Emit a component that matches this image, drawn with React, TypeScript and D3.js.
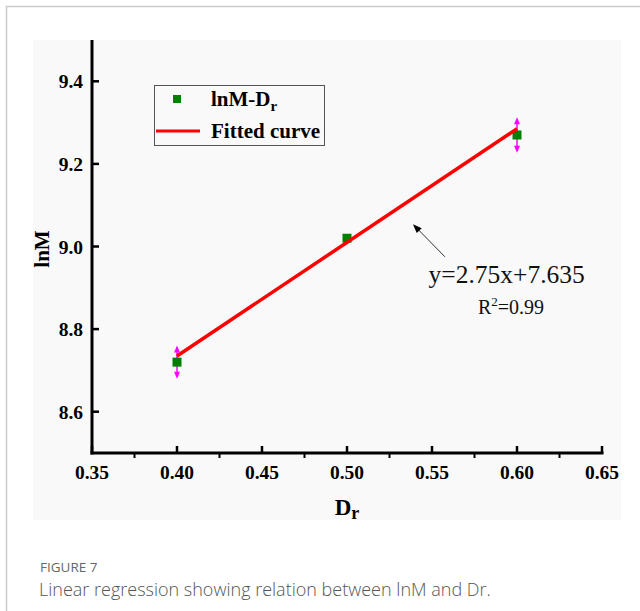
import * as d3 from "d3";
import React, { useEffect, useRef } from "react";

// measured points (Dr, lnM) and their error half-widths
const drValues = [0.4, 0.5, 0.6];
const lnmValues = [8.72, 9.02, 9.27];
const errValues = [0.04, 0, 0.043];

// fitted line y = slope * x + intercept
const slope = 2.75;
const intercept = 7.635;

const xTicks = [0.35, 0.4, 0.45, 0.5, 0.55, 0.6, 0.65];
const xMinor = [0.375, 0.425, 0.475, 0.525, 0.575, 0.625];
const yTicks = [8.6, 8.8, 9.0, 9.2, 9.4];

const serif = "'Liberation Serif', 'Times New Roman', serif";
const sans = "'Open Sans', 'Noto Sans', sans-serif";

export default function App() {
  const ref = useRef<SVGSVGElement | null>(null);

  useEffect(() => {
    const svg = d3.select(ref.current);
    svg.selectAll("*").remove();

    const x = d3.scaleLinear().domain([0.35, 0.65]).range([92, 602]);
    const y = d3.scaleLinear().domain([8.5, 9.5]).range([453, 40]);

    // page frame
    svg.append("path")
      .attr("d", "M6.5,611 V6.5 H640")
      .attr("fill", "none")
      .attr("stroke", "#cccccc")
      .attr("stroke-width", 1.5);

    // chart background
    svg.append("rect")
      .attr("x", 33).attr("y", 40)
      .attr("width", 588).attr("height", 480)
      .attr("fill", "#f9f9f9");

    const g = svg.append("g");

    const fit = d3.line<number>()
      .x(d => x(d))
      .y(d => y(slope * d + intercept));

    // error bars with arrow heads
    drValues.forEach((d, i) => {
      const e = errValues[i];
      if (!e) return;
      const cx = x(d);
      const top = y(lnmValues[i] + e);
      const bot = y(lnmValues[i] - e);
      g.append("line")
        .attr("x1", cx).attr("x2", cx)
        .attr("y1", top + 3).attr("y2", bot - 3)
        .attr("stroke", "#ff00ff").attr("stroke-width", 1.5);
      g.append("path")
        .attr("d", `M${cx},${top} L${cx - 3},${top + 7} L${cx + 3},${top + 7} Z`)
        .attr("fill", "#ff00ff");
      g.append("path")
        .attr("d", `M${cx},${bot} L${cx - 3},${bot - 7} L${cx + 3},${bot - 7} Z`)
        .attr("fill", "#ff00ff");
    });

    // points
    g.selectAll("rect.pt")
      .data(drValues)
      .enter()
      .append("rect")
      .attr("class", "pt")
      .attr("x", d => x(d) - 4.5)
      .attr("y", (d, i) => y(lnmValues[i]) - 4.5)
      .attr("width", 9).attr("height", 9)
      .attr("fill", "#008000");

    // fitted line, drawn over the markers
    g.append("path")
      .datum([drValues[0], drValues[drValues.length - 1]])
      .attr("fill", "none")
      .attr("stroke", "#ff0000")
      .attr("stroke-width", 3.5)
      .attr("d", fit);

    // axes
    const axisColor = "#000";
    g.append("line")
      .attr("x1", x(0.35)).attr("x2", x(0.35))
      .attr("y1", y(9.5)).attr("y2", y(8.5) + 1.5)
      .attr("stroke", axisColor).attr("stroke-width", 3);
    g.append("line")
      .attr("x1", x(0.35) - 1.5).attr("x2", x(0.65) + 1.5)
      .attr("y1", y(8.5)).attr("y2", y(8.5))
      .attr("stroke", axisColor).attr("stroke-width", 3);

    xTicks.forEach(t => {
      g.append("line")
        .attr("x1", x(t)).attr("x2", x(t))
        .attr("y1", y(8.5)).attr("y2", y(8.5) - 7)
        .attr("stroke", axisColor).attr("stroke-width", 2.5);
      g.append("text")
        .attr("x", x(t)).attr("y", 479)
        .attr("text-anchor", "middle")
        .style("font-family", serif)
        .style("font-weight", "bold")
        .style("font-size", "19.5px")
        .text(t.toFixed(2));
    });
    xMinor.forEach(t => {
      g.append("line")
        .attr("x1", x(t)).attr("x2", x(t))
        .attr("y1", y(8.5)).attr("y2", y(8.5) + 5)
        .attr("stroke", axisColor).attr("stroke-width", 2);
    });

    yTicks.forEach(t => {
      g.append("line")
        .attr("x1", x(0.35)).attr("x2", x(0.35) + 7)
        .attr("y1", y(t)).attr("y2", y(t))
        .attr("stroke", axisColor).attr("stroke-width", 2.5);
      g.append("text")
        .attr("x", 83).attr("y", y(t) + 7)
        .attr("text-anchor", "end")
        .style("font-family", serif)
        .style("font-weight", "bold")
        .style("font-size", "19.5px")
        .text(t.toFixed(1));
    });

    // axis titles
    const xt = g.append("text")
      .attr("x", 347).attr("y", 515)
      .attr("text-anchor", "middle")
      .style("font-family", serif)
      .style("font-weight", "bold")
      .style("font-size", "23px");
    xt.append("tspan").text("D");
    xt.append("tspan").attr("dy", 4).style("font-size", "18px").text("r");

    g.append("text")
      .attr("transform", "translate(49,249) rotate(-90)")
      .attr("text-anchor", "middle")
      .style("font-family", serif)
      .style("font-weight", "bold")
      .style("font-size", "21px")
      .text("lnM");

    // legend
    const lg = g.append("g");
    lg.append("rect")
      .attr("x", 154.5).attr("y", 85.5)
      .attr("width", 170).attr("height", 60)
      .attr("fill", "none")
      .attr("stroke", "#555").attr("stroke-width", 1);
    lg.append("rect")
      .attr("x", 173).attr("y", 95)
      .attr("width", 8).attr("height", 8)
      .attr("fill", "#008000");
    const l1 = lg.append("text")
      .attr("x", 211).attr("y", 106)
      .style("font-family", serif)
      .style("font-weight", "bold")
      .style("font-size", "21px");
    l1.append("tspan").text("lnM-D");
    l1.append("tspan").attr("dy", 5).style("font-size", "15px").text("r");
    lg.append("line")
      .attr("x1", 156).attr("x2", 200)
      .attr("y1", 131).attr("y2", 131)
      .attr("stroke", "#ff0000").attr("stroke-width", 3);
    lg.append("text")
      .attr("x", 211).attr("y", 138)
      .style("font-family", serif)
      .style("font-weight", "bold")
      .style("font-size", "21px")
      .text("Fitted curve");

    // annotation arrow
    const tipX = x(0.5388), tipY = y(9.054);
    const tailX = x(0.5576), tailY = y(8.975);
    const ang = Math.atan2(tipY - tailY, tipX - tailX);
    g.append("line")
      .attr("x1", tailX).attr("y1", tailY)
      .attr("x2", tipX - 6 * Math.cos(ang)).attr("y2", tipY - 6 * Math.sin(ang))
      .attr("stroke", "#333").attr("stroke-width", 1);
    const ah = d3.path();
    ah.moveTo(tipX, tipY);
    ah.lineTo(tipX - 9 * Math.cos(ang) + 3.5 * Math.sin(ang), tipY - 9 * Math.sin(ang) - 3.5 * Math.cos(ang));
    ah.lineTo(tipX - 9 * Math.cos(ang) - 3.5 * Math.sin(ang), tipY - 9 * Math.sin(ang) + 3.5 * Math.cos(ang));
    ah.closePath();
    g.append("path").attr("d", ah.toString()).attr("fill", "#000");

    g.append("text")
      .attr("x", x(0.548)).attr("y", y(8.912))
      .style("font-family", serif)
      .style("font-size", "25.5px")
      .attr("fill", "#111")
      .text(`y=${slope}x+${intercept}`);

    const r2 = g.append("text")
      .attr("x", x(0.577)).attr("y", y(8.837))
      .style("font-family", serif)
      .style("font-size", "20px")
      .attr("fill", "#111");
    r2.append("tspan").text("R");
    r2.append("tspan").attr("dy", -8).style("font-size", "13px").text("2");
    r2.append("tspan").attr("dy", 8).text("=0.99");

    // caption
    svg.append("text")
      .attr("x", 40).attr("y", 572)
      .style("font-family", sans)
      .style("font-size", "13.5px")
      .attr("fill", "#666")
      .text("FIGURE 7");
    svg.append("text")
      .attr("x", 39).attr("y", 596)
      .style("font-family", sans)
      .style("font-size", "18px")
      .style("font-weight", 300)
      .attr("fill", "#555")
      .text("Linear regression showing relation between lnM and Dr.");
  }, []);

  return (
    <svg
      ref={ref}
      width={640}
      height={611}
      style={{ position: "absolute", left: 0, top: 0, background: "#fff" }}
    />
  );
}
